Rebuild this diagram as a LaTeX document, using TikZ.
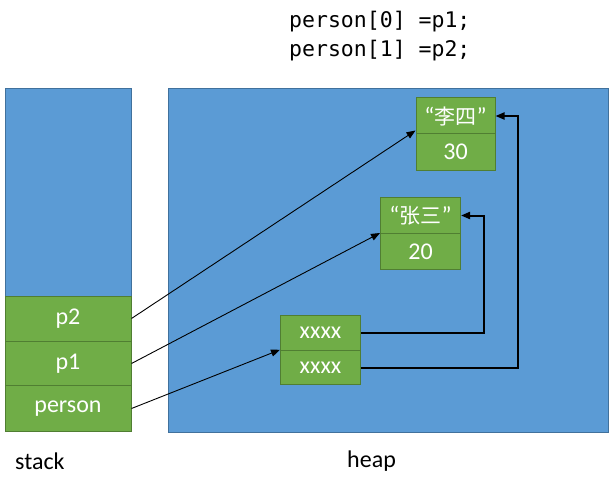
\documentclass[tikz,border=0pt]{standalone}
\usepackage{fontspec}
\setmainfont{Carlito}
\newfontfamily\codefont{DejaVu Sans Mono}
\newfontfamily\cjk{Noto Sans CJK SC}
\usetikzlibrary{arrows.meta}
\definecolor{blueF}{HTML}{5B9BD5}
\definecolor{blueD}{HTML}{41719C}
\definecolor{greenF}{HTML}{70AD47}
\definecolor{greenD}{HTML}{507E32}
\tikzset{
  area/.style={draw=blueD, fill=blueF, line width=1pt},
  cell/.style={draw=greenD, fill=greenF, line width=1pt, text=white, inner sep=0pt, font=\fontsize{24}{28}\selectfont},
  ptr/.style={-{Triangle[length=9pt,width=7pt]}, line width=0.9pt, black},
  ref/.style={-{Triangle[length=9pt,width=7pt]}, line width=2pt, black},
  lbl/.style={font=\fontsize{24}{28}\selectfont, text=black, anchor=west, inner sep=0pt},
  code/.style={font=\codefont\fontsize{21.5}{24}\selectfont, anchor=west, inner sep=0pt}
}
\begin{document}
\begin{tikzpicture}[x=1pt,y=-1pt]
\useasboundingbox (0,0) rectangle (609,489);
% code
\node[code] (c0) at (289,22) {person[0] =p1;};
\node[code] (c1) at (289,51) {person[1] =p2;};
% stack
\draw[area] (5,89) rectangle (131,431);
\node[cell, minimum width=126pt, minimum height=45pt] (p2) at (68,318.5) {p2};
\node[cell, minimum width=126pt, minimum height=44pt] (p1) at (68,363.5) {p1};
\node[cell, minimum width=126pt, minimum height=46pt] (person) at (68,408.5) {person};
% heap
\draw[area] (168.5,89) rectangle (608,432);
% li si
\node[cell, minimum width=79pt, minimum height=36pt] (ls) at (455.5,116) {“{\cjk\fontsize{21}{24}\selectfont 李四}”};
\node[cell, minimum width=79pt, minimum height=36pt] (ls2) at (455.5,152) {30};
% zhang san
\node[cell, minimum width=80pt, minimum height=36pt] (zs) at (420.5,215.5) {“{\cjk\fontsize{21}{24}\selectfont 张三}”};
\node[cell, minimum width=80pt, minimum height=36pt] (zs2) at (420.5,251.5) {20};
% array
\node[cell, minimum width=80pt, minimum height=34.5pt] (a0) at (320.5,333) {xxxx};
\node[cell, minimum width=80pt, minimum height=34.5pt] (a1) at (320.5,367.5) {xxxx};
% labels
\node[lbl] (st) at (15,461) {stack};
\node[lbl] (hp) at (347,461) {heap};
% connectors
\coordinate (r0) at (484,333);
\coordinate (r1) at (518,367.5);
\draw[ptr] (p2.east) -- ([yshift=3pt]ls2.north west);
\draw[ptr] (p1.east) -- (zs2.north west);
\draw[ptr] (person.east) -- (a1.north west);
\draw[ref] (a0.east) -- (r0) -- (r0 |- zs.east) -- (zs.east);
\draw[ref] (a1.east) -- (r1) -- (r1 |- ls.east) -- (ls.east);
\end{tikzpicture}
\end{document}
